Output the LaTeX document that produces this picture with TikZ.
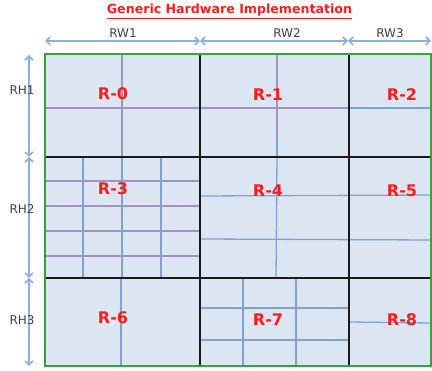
\documentclass[tikz,border=0pt]{standalone}
\usepackage{fontspec}
\setmainfont{DejaVu Sans}
\usetikzlibrary{arrows.meta}
\definecolor{cellfill}{HTML}{DCE6F2}
\definecolor{frame}{HTML}{36A336}
\definecolor{grid}{HTML}{1A1A1A}
\definecolor{fineA}{HTML}{A391C6}
\definecolor{fineB}{HTML}{7DA3D6}
\definecolor{dimline}{HTML}{8CAFDC}
\definecolor{lbl}{HTML}{FF1A1A}
\definecolor{dimtext}{HTML}{404040}
\tikzset{
  purpleline/.style={draw=fineA, line width=1.3pt},
  blueline/.style={draw=fineB, line width=1.3pt},
  gridline/.style={draw=grid, line width=2.8pt},
  dimarrow/.style={draw=dimline, line width=1.6pt,
    {Straight Barb[length=4pt,width=8pt]}-{Straight Barb[length=4pt,width=8pt]}},
  regionlabel/.style={text=lbl, font=\fontsize{16}{18}\selectfont\bfseries, inner sep=0pt},
  dimlabel/.style={text=dimtext, font=\fontsize{12}{14}\selectfont, inner sep=0pt}
}
\begin{document}
\begin{tikzpicture}[x=1pt,y=-1pt]
\useasboundingbox (0,0) rectangle (432,371);

% background of the array
\fill[cellfill] (45,54) rectangle (431,366);

% R-0: 2x2 partition
\draw[purpleline] (122,54) -- (122,157);
\draw[purpleline] (45,108) -- (200,108);
% R-1: 2x2 partition
\draw[purpleline] (277,54) -- (277,133);
\draw[blueline] (277,133) -- (277,157);
\draw[purpleline] (200,108) -- (349,108);
% R-2
\draw[blueline] (349,108) -- (431,108);
% R-3: 4x5 partition
\foreach \y in {181,206,231,256} \draw[purpleline] (45,\y) -- (200,\y);
\foreach \x in {83,122,161} \draw[blueline] (\x,157) -- (\x,278);
% R-4 and R-5
\draw[blueline] (277,157) -- (276,278);
\draw[blueline] (200,196) -- (431,195);
\draw[blueline] (200,239) -- (431,240);
% R-6
\draw[blueline] (121,278) -- (121,366);
% R-7: 3x3 partition
\foreach \x in {243,296} \draw[blueline] (\x,278) -- (\x,366);
\foreach \y in {308,340} \draw[blueline] (200,\y) -- (349,\y);
% R-8
\draw[blueline] (349,322) -- (431,323);

% region boundaries
\draw[gridline] (200,54) -- (200,366);
\draw[gridline] (349,54) -- (349,366);
\draw[gridline] (45,157) -- (431,157);
\draw[gridline] (45,278) -- (431,278);

% outer frame
\draw[frame, line width=2pt] (45,54) rectangle (431,366);

% region names
\node[regionlabel] (r0) at (113,94) {R-0};
\node[regionlabel] (r1) at (268,95) {R-1};
\node[regionlabel] (r2) at (402,95) {R-2};
\node[regionlabel] (r3) at (113,189) {R-3};
\node[regionlabel] (r4) at (268,191) {R-4};
\node[regionlabel] (r5) at (402,191) {R-5};
\node[regionlabel] (r6) at (113,318) {R-6};
\node[regionlabel] (r7) at (268,320) {R-7};
\node[regionlabel] (r8) at (402,320) {R-8};

% width dimensions
\coordinate (w0) at (45,41);
\coordinate (w1) at (200,41);
\coordinate (w2) at (348,41);
\coordinate (w3) at (431,41);
\draw[dimarrow] (w0) -- (w1);
\draw[dimarrow] (w1) -- (w2);
\draw[dimarrow] (w2) -- (w3);
\node[dimlabel] (rw1) at (123,33) {RW1};
\node[dimlabel] (rw2) at (287,33) {RW2};
\node[dimlabel] (rw3) at (390,33) {RW3};

% height dimensions
\coordinate (h0) at (29,55);
\coordinate (h1) at (29,157);
\coordinate (h2) at (29,278);
\coordinate (h3) at (29,366);
\draw[dimarrow] (h0) -- (h1);
\draw[dimarrow] (h1) -- (h2);
\draw[dimarrow] (h2) -- (h3);
\node[dimlabel] (rh1) at (22,90) {RH1};
\node[dimlabel] (rh2) at (22,209) {RH2};
\node[dimlabel] (rh3) at (22,320) {RH3};

% title
\node[text=lbl, font=\fontsize{12.6}{14}\selectfont\bfseries, inner sep=0pt, anchor=base]
  (title) at (229.5,14) {\underline{Generic Hardware Implementation}};
\end{tikzpicture}
\end{document}
